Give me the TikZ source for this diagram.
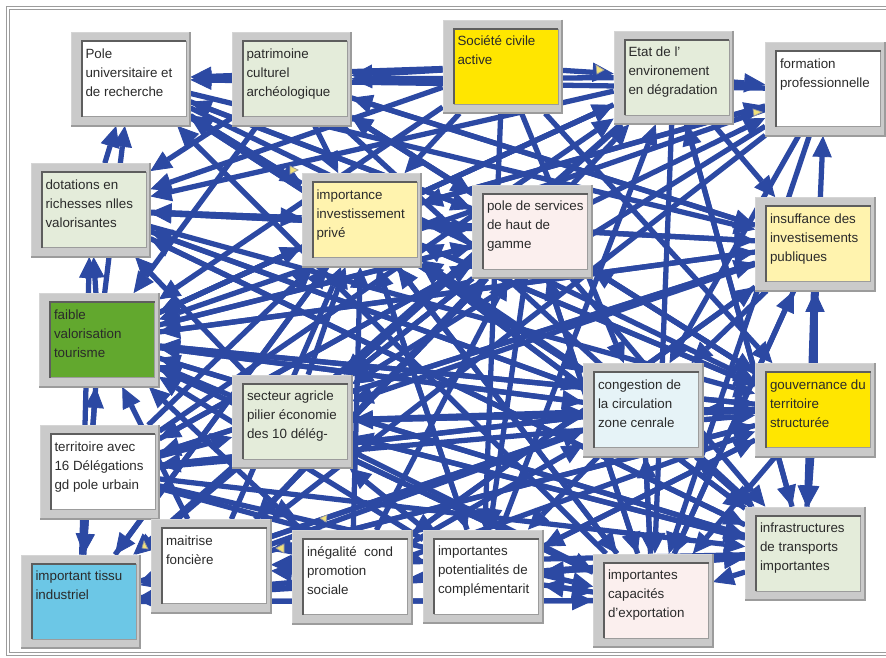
\documentclass[tikz,border=0pt]{standalone}
\usepackage{fontspec}
\setmainfont{Liberation Sans}
\usetikzlibrary{arrows.meta,backgrounds}

\definecolor{lien}{HTML}{2C49A3}
\definecolor{grisc}{HTML}{CACACA}
\definecolor{grisf}{HTML}{9C9C9C}
\definecolor{texte}{HTML}{2A2A2A}
\definecolor{blanc}{HTML}{FFFFFF}
\definecolor{vertp}{HTML}{E4ECDA}
\definecolor{jaune}{HTML}{FFE600}
\definecolor{jaunep}{HTML}{FFF3AE}
\definecolor{rosep}{HTML}{FBEFEE}
\definecolor{vert}{HTML}{62A82E}
\definecolor{bleup}{HTML}{E6F3F7}
\definecolor{bleu}{HTML}{6CC7E6}
\definecolor{marque}{HTML}{F2E27A}

\tikzset{
  cadre/.style={rectangle, fill=grisc, draw=grisc!80, minimum width=2.38cm, minimum height=1.86cm, inner sep=0pt},
  fond/.style={rectangle, draw=grisf, line width=0.4pt, inner sep=0.07cm, text=texte,
    font=\fontsize{7.6}{10.8}\selectfont},
  fleche/.style={color=lien, line width=3pt,
    -{Triangle[length=12pt,width=11pt,line width=0.5pt,color=lien,fill=lien]}},
}

% boite : nom, position, couleur, texte
\newcommand{\facteur}[4]{%
  \node[cadre] (#1) at (#2) {};
  \draw[grisf, line width=1pt] (#1.north east) -- (#1.south east) -- (#1.south west);
  \node[fond, fill=#3] (#1-txt) at ([xshift=0.07cm]#1.center)
    {\parbox[t][1.36cm][t]{1.94cm}{\raggedright\strut #4}};
  \draw[grisf!60!black, line width=1pt] (#1-txt.south west) -- (#1-txt.north west) -- (#1-txt.north east);
}

\begin{document}
\begin{tikzpicture}[x=0.02cm, y=-0.02cm]

\useasboundingbox (0,0) rectangle (886,657);
\draw[grisf, line width=0.6pt, double=white, double distance=1pt] (892,654) -- (8,654) -- (8,8) -- (892,8);

% ================= facteurs =================

\facteur{pole}{130.5,79}{blanc}{Pole\\universitaire et\\de recherche}
\facteur{patri}{291.5,79}{vertp}{patrimoine\\culturel\\archéologique}
\facteur{soc}{502.5,66.5}{jaune}{Société civile\\active}
\facteur{etat}{673.5,77.5}{vertp}{Etat de l'\\environement\\en dégradation}
\facteur{form}{825,89}{blanc}{formation\\professionnelle}

\facteur{dot}{90.5,210}{vertp}{dotations en\\richesses nlles\\valorisantes}
\facteur{invp}{361.5,220}{jaunep}{importance\\investissement\\privé}
\facteur{serv}{532,231.5}{rosep}{pole de services\\de haut de\\gamme}
\facteur{insuf}{815,244}{jaunep}{insuffance des\\investisements\\publiques}

\facteur{faible}{99,340}{vert}{faible\\valorisation\\tourisme}
\facteur{agri}{292,421.5}{vertp}{secteur agricle\\pilier économie\\des 10 délég-}
\facteur{terr}{99.5,472}{blanc}{territoire avec\\16 Délégations\\gd pole urbain}
\facteur{cong}{643,410}{bleup}{congestion de\\la circulation\\zone cenrale}
\facteur{gouv}{815,410}{jaune}{gouvernance du\\territoire\\structurée}

\facteur{maitr}{211,566}{blanc}{maitrise\\foncière}
\facteur{tissu}{80.5,601.5}{bleu}{important tissu\\industriel}
\facteur{ineg}{352,577}{blanc}{inégalité~~cond\\promotion\\sociale}
\facteur{compl}{483,576.5}{blanc}{importantes\\potentialités de\\complémentarit}
\facteur{export}{653,600.5}{rosep}{importantes\\capacités\\d'exportation}
\facteur{infra}{805,553.5}{vertp}{infrastructures\\de transports\\importantes}

% ================= liens =================

\begin{scope}[on background layer]
\draw[fleche] (pole) edge (invp) edge (serv) edge (insuf) edge (cong) edge (gouv);
\draw[fleche] (patri) edge (invp) edge (serv) edge (insuf) edge (infra) edge (dot) edge (faible);
\draw[fleche] (soc) edge (etat) edge (pole) edge (patri) edge (invp) edge (gouv) edge (faible) edge (cong) edge (compl) edge (dot);
\draw[fleche] (etat) edge (form) edge (patri) edge (insuf) edge (faible) edge (agri) edge (tissu) edge (export) edge (dot) edge (infra);
\draw[fleche] (form) edge (pole) edge (invp) edge (cong) edge (agri) edge (export) edge (faible) edge (maitr);
\draw[fleche] (dot) edge (pole) edge (invp) edge (serv) edge (infra) edge (cong) edge (gouv);
\draw[fleche] (invp) edge (pole) edge (dot) edge (form) edge (insuf) edge (gouv) edge (export) edge (compl) edge (tissu) edge (faible) edge (etat) edge (infra);
\draw[fleche] (serv) edge (pole) edge (patri) edge (dot) edge (faible) edge (gouv) edge (infra) edge (compl) edge (export) edge (form) edge (agri) edge (terr) edge (maitr);
\draw[fleche] (insuf) edge (faible) edge (invp) edge (agri) edge (infra) edge (export) edge (cong) edge (patri) edge (ineg) edge (terr);
\draw[fleche] (faible) edge (dot) edge (pole) edge (tissu) edge (invp) edge (serv) edge (insuf) edge (gouv) edge (cong) edge (export) edge (infra) edge (etat);
\draw[fleche] (agri) edge (faible) edge (invp) edge (tissu) edge (cong) edge (export) edge (infra) edge (serv) edge (dot) edge (gouv);
\draw[fleche] (terr) edge (invp) edge (serv) edge (agri) edge (cong) edge (gouv) edge (infra) edge (compl) edge (export) edge (etat) edge (insuf);
\draw[fleche] (cong) edge (pole) edge (faible) edge (export) edge (infra) edge (gouv) edge (invp) edge (terr) edge (tissu) edge (compl) edge (dot);
\draw[fleche] (gouv) edge (insuf) edge (infra) edge (cong) edge (faible) edge (invp) edge (export) edge (compl) edge (maitr) edge (agri) edge (serv) edge (patri);
\draw[fleche] (maitr) edge (tissu) edge (invp) edge (serv) edge (cong) edge (etat) edge (gouv) edge (faible);
\draw[fleche] (tissu) edge (faible) edge (invp) edge (export) edge (cong) edge (infra) edge (dot);
\draw[fleche] (ineg) edge (maitr) edge (faible) edge (invp) edge (cong) edge (gouv) edge (serv) edge (tissu) edge (insuf);
\draw[fleche] (compl) edge (export) edge (tissu) edge (faible) edge (invp) edge (gouv) edge (infra) edge (agri) edge (etat) edge (ineg);
\draw[fleche] (export) edge (compl) edge (tissu) edge (faible) edge (cong) edge (serv) edge (insuf) edge (pole) edge (invp);
\draw[fleche] (infra) edge (export) edge (compl) edge (faible) edge (cong) edge (invp) edge (agri) edge (maitr) edge (form) edge (etat) edge (tissu) edge (dot);
\end{scope}

% petits reperes jaunes
\fill[marque, draw=grisf] (604,70) -- ++(-8,-5) -- ++(1,9) -- cycle;
\fill[marque, draw=grisf] (762,112) -- ++(-9,-3) -- ++(1,7) -- cycle;
\fill[marque, draw=grisf] (298,170) -- ++(-8,-4) -- ++(0,8) -- cycle;
\fill[marque, draw=grisf] (326,522) -- ++(-6,-4) -- ++(7,-3) -- cycle;
\fill[marque, draw=grisf] (276,548) -- ++(8,-4) -- ++(0,9) -- cycle;
\fill[marque, draw=grisf] (142,548) -- ++(2,-7) -- ++(4,8) -- cycle;

\end{tikzpicture}
\end{document}
